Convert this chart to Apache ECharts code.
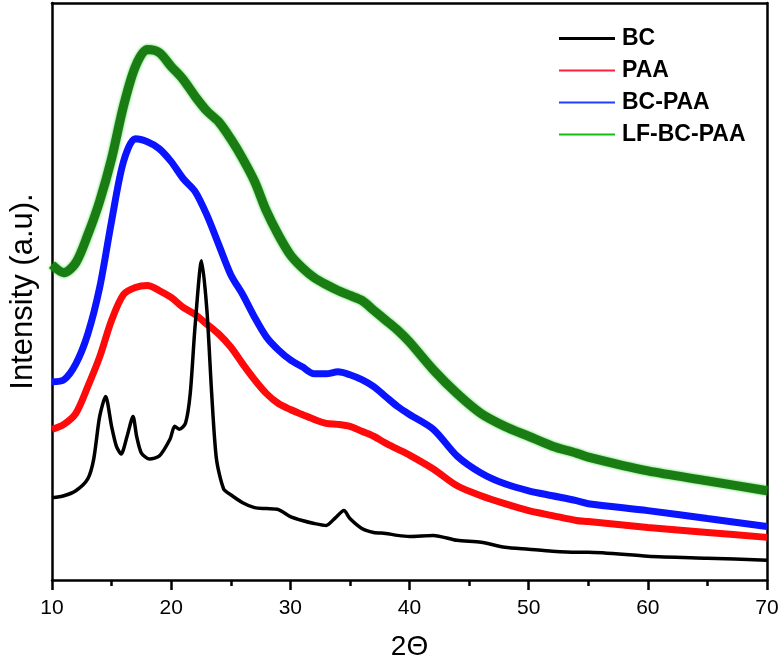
<!DOCTYPE html>
<html>
<head>
<meta charset="utf-8">
<script src="https://cdn.jsdelivr.net/npm/echarts@6/dist/echarts.min.js"></script>
<style>
html,body{margin:0;padding:0;background:#fff;}
#chart{width:782px;height:666px;}
</style>
</head>
<body>
<div id="chart"></div>
<script>
// 2-theta positions (degrees) shared by PAA, BC-PAA, LF-BC-PAA
var angles = [10,11,12,13,14,15,16,17,18,19,20,21,22,23,24,25,26,27,28,29,30,31,32,33,34,35,36,37,38,39,40,42,44,46,48,50,52,54,55,60,65,70];
var lfbcpaa = [318,310,320,348,382,425,478,518,535,532,518,505,488,473,462,445,425,402,372,348,328,315,305,298,292,287,282,272,262,252,240,212,188,168,155,145,135,128,124,110,100,90];
var bcpaa   = [200,202,218,248,295,362,422,445,442,435,422,405,392,368,338,308,288,265,245,232,222,215,208,208,210,207,202,195,185,175,167,152,125,108,97,90,85,80,77,70,62,54];
var paa     = [152,157,168,195,225,262,288,295,297,292,285,275,268,258,248,235,218,202,188,178,172,167,162,158,157,155,150,145,138,132,126,112,95,85,77,70,65,60,59,53,48,43];
// BC has sharper peaks, sampled on its own angles
var bcAngles = [10,11,12,13,13.5,14,14.5,15,15.4,15.8,16.3,16.8,17.1,17.5,18.2,19,19.9,20.3,20.7,21.2,21.6,22,22.55,23,23.4,23.8,24.4,25,26,27,28,29,30,31,32,33,33.8,34.5,35,36,37,38,39,40,42,44,46,48,50,52,54,55,60,65,70];
var bc       = [83,85,90,102,122,165,185,155,135,127,145,165,145,128,122,125,142,155,152,158,188,255,322,272,188,122,92,86,78,73,72,71,64,60,57,55,63,70,62,52,48,47,45,44,45,40,38,33,31,29,28,28,24,22,20];
var xTicks = [10,20,30,40,50,60,70];
var seriesNames = ['BC','PAA','BC-PAA','LF-BC-PAA'];

function pairs(xs, ys){ return xs.map(function(x,i){ return [x, ys[i]]; }); }

var chart = echarts.init(document.getElementById('chart'), null, {renderer:'canvas'});
var FONT = '"Liberation Sans", Arial, sans-serif';
var axisLineStyle = {color:'#000', width:2.5};

chart.setOption({
  animation:false,
  backgroundColor:'#fff',
  grid:{left:50, right:15, top:3, bottom:81},
  legend:{
    orient:'vertical', left:559, top:27, padding:0,
    itemWidth:56, itemHeight:3, itemGap:9, icon:'rect',
    textStyle:{fontFamily:FONT, fontWeight:'bold', fontSize:23, color:'#000', lineHeight:22, padding:[0,0,0,2]},
    data:[
      {name:seriesNames[0], icon:'rect', itemStyle:{color:'#000'}},
      {name:seriesNames[1], icon:'path://M0,1L56,1L56,3L0,3Z', itemStyle:{color:'#ff2040'}},
      {name:seriesNames[2], icon:'path://M0,1L56,1L56,3L0,3Z', itemStyle:{color:'#2040ff'}},
      {name:seriesNames[3], icon:'path://M0,1L56,1L56,3L0,3Z', itemStyle:{color:'#10c010'}}
    ]
  },
  xAxis:[{
    type:'value', position:'bottom', min:xTicks[0], max:xTicks[xTicks.length-1], interval:10,
    name:'2\u0398', nameLocation:'middle', nameGap:53,
    nameTextStyle:{fontFamily:FONT, fontSize:28, color:'#000'},
    axisLine:{show:true, onZero:false, lineStyle:axisLineStyle},
    axisTick:{show:true, inside:false, length:10, lineStyle:{color:'#000', width:2.5}},
    minorTick:{show:true, splitNumber:2, length:6, lineStyle:{color:'#000', width:2.5}},
    axisLabel:{fontFamily:FONT, fontSize:21, color:'#000', margin:18},
    splitLine:{show:false}, minorSplitLine:{show:false}
  },{
    type:'value', position:'top', min:10, max:70,
    axisLine:{show:true, onZero:false, lineStyle:axisLineStyle},
    axisTick:{show:false}, axisLabel:{show:false}, splitLine:{show:false}
  }],
  yAxis:[{
    type:'value', position:'left', min:0, max:582,
    name:'Intensity (a.u).', nameLocation:'middle', nameGap:13,
    nameTextStyle:{fontFamily:FONT, fontSize:31, color:'#000'},
    axisLine:{show:true, onZero:false, lineStyle:axisLineStyle},
    axisTick:{show:false}, axisLabel:{show:false}, splitLine:{show:false}
  },{
    type:'value', position:'right', min:0, max:582,
    axisLine:{show:true, onZero:false, lineStyle:axisLineStyle},
    axisTick:{show:false}, axisLabel:{show:false}, splitLine:{show:false}
  }],
  series:[
    {name:seriesNames[3], type:'line', symbol:'none', smooth:0.3, data:pairs(angles, lfbcpaa),
     lineStyle:{color:'#1a7d14', width:9, shadowColor:'rgba(20,200,20,0.8)', shadowBlur:3}, itemStyle:{color:'#10c010'}},
    {name:seriesNames[2], type:'line', symbol:'none', smooth:0.3, data:pairs(angles, bcpaa),
     lineStyle:{color:'#0a14ff', width:7}, itemStyle:{color:'#2040ff'}},
    {name:seriesNames[1], type:'line', symbol:'none', smooth:0.3, data:pairs(angles, paa),
     lineStyle:{color:'#ff0a0a', width:7}, itemStyle:{color:'#ff2040'}},
    {name:seriesNames[0], type:'line', symbol:'none', smooth:0.25, data:pairs(bcAngles, bc),
     lineStyle:{color:'#000', width:3.5}, itemStyle:{color:'#000'}}
  ]
});
</script>
</body>
</html>
